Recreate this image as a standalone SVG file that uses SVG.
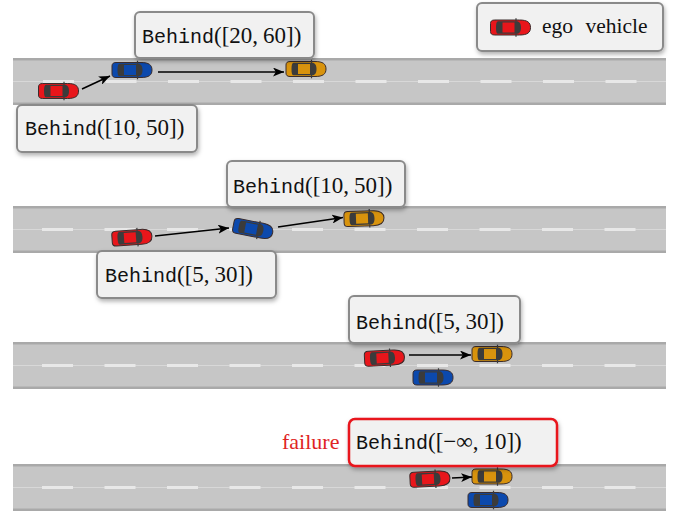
<svg xmlns="http://www.w3.org/2000/svg" xmlns:xlink="http://www.w3.org/1999/xlink" width="684" height="512" viewBox="0 0 684 512">
  <style>
    .road { fill: #c6c6c6; }
    .edge { fill: #a9a9a9; }
    .mid { stroke: #d8d8d8; stroke-width: 1; }
    .dash { stroke: #e8e8e8; stroke-width: 3; stroke-dasharray: 31 31.5; }
    .box { fill: #f1f1f1; stroke: #8a8a8a; stroke-width: 2; filter: url(#shadow); }
    .fail { fill: #f1f1f1; stroke: #e8141b; stroke-width: 2.5; filter: url(#shadow); }
    .tt { font-family: "Liberation Mono", "DejaVu Sans Mono", monospace; font-size: 20px; fill: #111; }
    .m { font-family: "Liberation Serif", "DejaVu Serif", serif; font-size: 23px; fill: #111; }
    .lbl { font-family: "Liberation Serif", "DejaVu Serif", serif; font-size: 21.5px; fill: #111; }
    .red-txt { font-family: "Liberation Serif", "DejaVu Serif", serif; font-size: 22px; fill: #e02424; }
    .arrow { stroke: #000; stroke-width: 1.6; fill: none; marker-end: url(#head); }
  </style>
  <defs>
    <filter id="shadow" x="-10%" y="-20%" width="125%" height="150%">
      <feDropShadow dx="1" dy="2.5" stdDeviation="2" flood-color="#000" flood-opacity="0.3"/>
    </filter>
    <marker id="head" markerUnits="userSpaceOnUse" markerWidth="12" markerHeight="9" refX="11" refY="4.5" orient="auto">
      <path d="M0,0 L11,4.5 L0,9 L2.8,4.5 Z" fill="#000"/>
    </marker>
    <!-- top view of a car, 40 x 15, nose pointing right; body colour comes from the use element -->
    <g id="car">
      <path d="M-16,-7.5 H9 C17,-7.5 20,-5 20,0 C20,5 17,7.5 9,7.5 H-16 C-19,7.5 -20,6 -20,4 V-4 C-20,-6 -19,-7.5 -16,-7.5 Z" stroke="#3a2c2c" stroke-width="1"/>
      <path d="M-12.5,-6.3 H6 C9,-6.3 10.5,-4 10.5,0 C10.5,4 9,6.3 6,6.3 H-12.5 C-14,6.3 -14.5,4 -14.5,0 C-14.5,-4 -14,-6.3 -12.5,-6.3 Z" fill="#3b3b3b"/>
      <rect x="-8" y="-5" width="12" height="10"/>
      <path d="M5.5,-9.3 V-6 M5.5,6 V9.3" stroke="#3b3b3b" stroke-width="1.2"/>
    </g>
  </defs>

  <rect width="684" height="512" fill="#fff"/>

  <!-- roads -->
  <g id="roads">
    <g id="road1">
      <rect class="road" x="13" y="58" width="653" height="47"/>
      <rect class="edge" x="13" y="58" width="653" height="2.5"/>
      <rect class="edge" x="13" y="102.5" width="653" height="2.5"/>
      <line class="mid" x1="13" y1="81.5" x2="666" y2="81.5"/>
      <line class="dash" x1="43" y1="81.5" x2="666" y2="81.5"/>
    </g>
    <g id="road2">
      <rect class="road" x="13" y="206" width="653" height="47"/>
      <rect class="edge" x="13" y="206" width="653" height="2.5"/>
      <rect class="edge" x="13" y="250.5" width="653" height="2.5"/>
      <line class="mid" x1="13" y1="229.5" x2="666" y2="229.5"/>
      <line class="dash" x1="42" y1="229.5" x2="666" y2="229.5"/>
    </g>
    <g id="road3">
      <rect class="road" x="13" y="342" width="653" height="47"/>
      <rect class="edge" x="13" y="342" width="653" height="2.5"/>
      <rect class="edge" x="13" y="386.5" width="653" height="2.5"/>
      <line class="mid" x1="13" y1="365.5" x2="666" y2="365.5"/>
      <line class="dash" x1="42" y1="365.5" x2="666" y2="365.5"/>
    </g>
    <g id="road4">
      <rect class="road" x="13" y="464" width="653" height="47"/>
      <rect class="edge" x="13" y="464" width="653" height="2.5"/>
      <rect class="edge" x="13" y="508.5" width="653" height="2.5"/>
      <line class="mid" x1="13" y1="487.5" x2="666" y2="487.5"/>
      <line class="dash" x1="42" y1="487.5" x2="666" y2="487.5"/>
    </g>
  </g>

  <!-- vehicles -->
  <g id="vehicles">
    <use id="ego1" xlink:href="#car" href="#car" fill="#e8161b" transform="translate(58.5,91)"/>
    <use id="blue1" xlink:href="#car" href="#car" fill="#0c49ad" transform="translate(132,70)"/>
    <use id="orange1" xlink:href="#car" href="#car" fill="#d8930d" transform="translate(306,69)"/>

    <use id="ego2" xlink:href="#car" href="#car" fill="#e8161b" transform="translate(132,237.5) rotate(-4)"/>
    <use id="blue2" xlink:href="#car" href="#car" fill="#0c49ad" transform="translate(253,229) rotate(11)"/>
    <use id="orange2" xlink:href="#car" href="#car" fill="#d8930d" transform="translate(364,218.5) rotate(-2)"/>

    <use id="ego3" xlink:href="#car" href="#car" fill="#e8161b" transform="translate(384.5,358) rotate(-3)"/>
    <use id="orange3" xlink:href="#car" href="#car" fill="#d8930d" transform="translate(492,354)"/>
    <use id="blue3" xlink:href="#car" href="#car" fill="#0c49ad" transform="translate(433,377.5)"/>

    <use id="ego4" xlink:href="#car" href="#car" fill="#e8161b" transform="translate(430,479) rotate(-3)"/>
    <use id="orange4" xlink:href="#car" href="#car" fill="#d8930d" transform="translate(492,476.5)"/>
    <use id="blue4" xlink:href="#car" href="#car" fill="#0c49ad" transform="translate(488,500)"/>
  </g>

  <!-- connectors -->
  <g id="connectors">
    <line class="arrow" x1="82" y1="89" x2="110" y2="76"/>
    <line class="arrow" x1="158" y1="72" x2="284" y2="72"/>
    <line class="arrow" x1="155" y1="236" x2="229" y2="228"/>
    <line class="arrow" x1="278" y1="227" x2="343" y2="217.5"/>
    <line class="arrow" x1="409" y1="355" x2="471" y2="355"/>
    <line class="arrow" x1="452" y1="478" x2="472" y2="477"/>
  </g>

  <!-- labels -->
  <g id="label-a">
    <rect class="box" x="135" y="12" width="179" height="46" rx="5"/>
    <text x="142" y="43"><tspan class="tt">Behind</tspan><tspan class="m">([20,</tspan><tspan class="m" dx="5">60])</tspan></text>
  </g>
  <g id="label-b">
    <rect class="box" x="17" y="105" width="180" height="47" rx="5"/>
    <text x="25" y="135"><tspan class="tt">Behind</tspan><tspan class="m">([10,</tspan><tspan class="m" dx="5">50])</tspan></text>
  </g>
  <g id="label-c">
    <rect class="box" x="227" y="161" width="178" height="46" rx="5"/>
    <text x="233" y="193"><tspan class="tt">Behind</tspan><tspan class="m">([10,</tspan><tspan class="m" dx="5">50])</tspan></text>
  </g>
  <g id="label-d">
    <rect class="box" x="97" y="251" width="179" height="47" rx="5"/>
    <text x="105" y="282"><tspan class="tt">Behind</tspan><tspan class="m">([5,</tspan><tspan class="m" dx="5">30])</tspan></text>
  </g>
  <g id="label-e">
    <rect class="box" x="349" y="296" width="171" height="47" rx="5"/>
    <text x="356" y="329"><tspan class="tt">Behind</tspan><tspan class="m">([5,</tspan><tspan class="m" dx="5">30])</tspan></text>
  </g>
  <g id="label-f">
    <text class="red-txt" x="282" y="449">failure</text>
    <rect class="fail" x="349" y="419" width="208" height="47" rx="6"/>
    <text x="356" y="449"><tspan class="tt">Behind</tspan><tspan class="m">([−∞,</tspan><tspan class="m" dx="5">10])</tspan></text>
  </g>

  <!-- legend -->
  <g id="legend">
    <rect class="box" x="477" y="3" width="186" height="48" rx="5"/>
    <use xlink:href="#car" href="#car" fill="#e8161b" transform="translate(510.5,27.5)"/>
    <text class="lbl" x="542" y="33" word-spacing="7">ego vehicle</text>
  </g>
</svg>
